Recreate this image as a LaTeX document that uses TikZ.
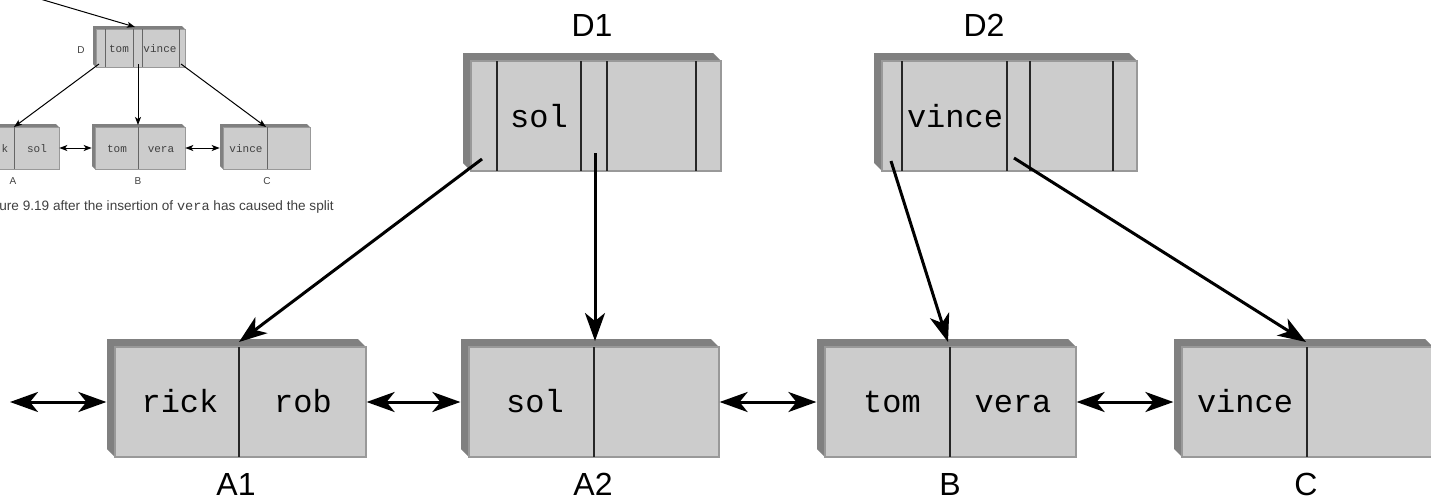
\documentclass[tikz,border=0pt]{standalone}
\usepackage{fontspec}
\usetikzlibrary{arrows.meta}
\newfontfamily\labelfont{Liberation Sans}
\newfontfamily\keyfont{Liberation Mono}
\definecolor{facegray}{HTML}{CCCCCC}
\definecolor{sidegray}{HTML}{808080}
\definecolor{rimgray}{HTML}{999999}

% box with a dark oblique side: [face opts]{name}{left}{top}{right}{bottom}{depth}
\newcommand{\slab}[7][]{%
  \fill[sidegray] (#3-#7,#4-#7) -- (#5-#7,#4-#7) -- (#5,#4) -- (#3,#4) -- (#3,#6) -- (#3-#7,#6-#7) -- cycle;
  \node[face, #1, minimum width={(#5-#3)*0.5pt}, minimum height={(#6-#4)*0.5pt}] (#2) at ({(#3+#5)/2},{(#4+#6)/2}) {};
}

\begin{document}
\begin{tikzpicture}[x=0.5pt, y=-0.5pt,
  face/.style={draw=rimgray, fill=facegray, line width=0.6pt, inner sep=0pt},
  divider/.style={line width=1.3pt, black!85},
  ptr/.style={line width=1.5pt, -{Stealth[length=14pt, width=10pt, inset=4pt]}},
  link/.style={line width=1.5pt, {Stealth[length=14pt, width=10pt, inset=4pt]}-{Stealth[length=14pt, width=10pt, inset=4pt]}},
  key/.style={font=\keyfont\fontsize{16}{16}\selectfont, inner sep=0pt, anchor=base},
  lbl/.style={font=\labelfont\fontsize{16}{16}\selectfont, inner sep=0pt, anchor=base},
  miniface/.style={line width=0.3pt},
  minidiv/.style={line width=0.5pt, black!60},
  miniptr/.style={line width=0.5pt, -{Stealth[length=4pt, width=3pt, inset=1pt]}},
  minilink/.style={line width=0.5pt, {Stealth[length=4pt, width=3pt, inset=1pt]}-{Stealth[length=4pt, width=3pt, inset=1pt]}},
  minikey/.style={font=\keyfont\fontsize{5.5}{5.5}\selectfont, text=black!75, inner sep=0pt, anchor=base},
  minilbl/.style={font=\labelfont\fontsize{5}{5}\selectfont, text=black!75, inner sep=0pt, anchor=base}]
\path[use as bounding box, clip] (0,0) rectangle (1431,499);

% small copy of the earlier figure
\slab[miniface]{md}{96}{29}{185}{67}{3}
\slab[miniface]{ma}{-10}{127}{59}{169}{3}
\slab[miniface]{mb}{95}{127}{185}{169}{3}
\slab[miniface]{mc}{223}{127}{310}{169}{3}
\foreach \x in {105,133,142,179} \draw[minidiv] (\x,29) -- (\x,67);
\draw[minidiv] (14,127) -- (14,169);
\draw[minidiv] (138,127) -- (138,169);
\draw[minidiv] (267,127) -- (267,169);
\node[minilbl] (mlD) at (81,53) {D};
\node[minikey] (mk1) at (119,52) {tom};
\node[minikey] (mk2) at (160,52) {vince};
\node[minikey] (mk3) at (5,152) {k};
\node[minikey] (mk4) at (37,152) {sol};
\node[minikey] (mk5) at (117,152) {tom};
\node[minikey] (mk6) at (161,152) {vera};
\node[minikey] (mk7) at (246,152) {vince};
\node[minilbl] (mlA) at (13,184) {A};
\node[minilbl] (mlB) at (138,184) {B};
\node[minilbl] (mlC) at (267,184) {C};
\coordinate (min) at (30,-4);
\coordinate (mdtop) at (135,27);
\coordinate (ms0) at (99,64);
\coordinate (ms1) at (138,64);
\coordinate (ms2) at (181,64);
\coordinate (matop) at (14,127);
\coordinate (mbtop) at (138,125);
\coordinate (mctop) at (266,127);
\draw[miniptr] (min) -- (mdtop);
\draw[miniptr] (ms0) -- (matop);
\draw[miniptr] (ms1) -- (mbtop);
\draw[miniptr] (ms2) -- (mctop);
\draw[minilink] (ma.east) -- ([xshift=-1.5pt]mb.west);
\draw[minilink] (mb.east) -- ([xshift=-1.5pt]mc.west);
\node[anchor=base west, font=\labelfont\fontsize{6.8}{6.8}\selectfont, text=black!75, inner sep=0pt] (mcap) at (-1,210)
  {ure 9.19 after the insertion of {\keyfont vera} has caused the split};

% index nodes
\slab{D1}{471}{61}{721}{171}{8}
\slab{D2}{882}{61}{1137}{171}{8}
\foreach \x in {497,581,607,696} \draw[divider] (\x,61) -- (\x,171);
\foreach \x in {902,1007,1030,1113} \draw[divider] (\x,61) -- (\x,171);
\node[key] (kD1) at (539,127) {sol};
\node[key] (kD2) at (955,127) {vince};
\node[lbl] (lD1) at (592,36) {D1};
\node[lbl] (lD2) at (984,36) {D2};

% leaf nodes
\slab{A1}{115}{347}{366}{457}{8}
\slab{A2}{469}{347}{719}{457}{8}
\slab{B}{825}{347}{1076}{457}{8}
\slab{C}{1182}{347}{1433}{457}{8}
\draw[divider] (239,347) -- (239,457);
\draw[divider] (594,347) -- (594,457);
\draw[divider] (950,347) -- (950,457);
\draw[divider] (1307,347) -- (1307,457);
\node[key] (k1) at (180,412) {rick};
\node[key] (k2) at (303,412) {rob};
\node[key] (k3) at (535,412) {sol};
\node[key] (k4) at (892,412) {tom};
\node[key] (k5) at (1013,412) {vera};
\node[key] (k6) at (1245,412) {vince};
\node[lbl] (lA1) at (236,495) {A1};
\node[lbl] (lA2) at (593,495) {A2};
\node[lbl] (lB) at (950,495) {B};
\node[lbl] (lC) at (1306,495) {C};

\coordinate (d1s0) at (482,159);
\coordinate (d1s1) at (595,153);
\coordinate (d2s0) at (891,161);
\coordinate (d2s1) at (1014,158);
\coordinate (a1top) at (239,342);
\coordinate (a2top) at (595,341);
\coordinate (btop) at (948,342);
\coordinate (ctop) at (1306,342);
\draw[ptr] (d1s0) -- (a1top);
\draw[ptr] (d1s1) -- (a2top);
\draw[ptr] (d2s0) -- (btop);
\draw[ptr] (d2s1) -- (ctop);

\coordinate (lend) at (10,402);
\draw[link] (lend) -- ([xshift=-4pt]A1.west);
\draw[link] (A1.east) -- ([xshift=-4pt]A2.west);
\draw[link] (A2.east) -- ([xshift=-4pt]B.west);
\draw[link] (B.east) -- ([xshift=-4pt]C.west);
\end{tikzpicture}
\end{document}
